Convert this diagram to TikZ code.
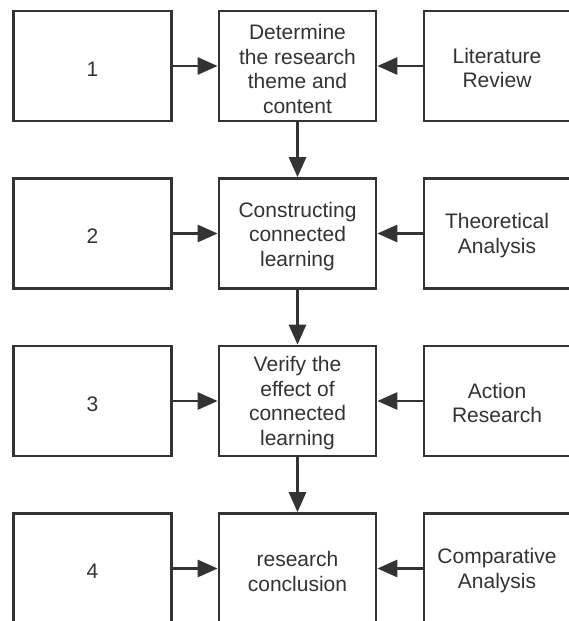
\documentclass[tikz,border=0pt]{standalone}
\usepackage{fontspec}
\setmainfont{Liberation Sans}
\usetikzlibrary{arrows.meta}
\definecolor{ink}{HTML}{333333}
\tikzset{
  box/.style={draw=ink, line width=2.7pt, minimum width=157pt, minimum height=110pt,
    inner sep=0pt},
  lbl/.style={align=center, text=ink, inner sep=0pt, font=\fontsize{21}{24.5}\selectfont},
  conn/.style={draw=ink, line width=2.8pt, -{Triangle[length=20pt,width=17pt]}}
}
\begin{document}
\begin{tikzpicture}[x=1pt,y=1pt]
\useasboundingbox (0,0) rectangle (569,-621);
\clip (0,0) rectangle (569,-621);
\fill[white] (0,0) rectangle (569,-621);
% left column
\node[box, minimum width=158pt] (l1) at (92.5,-66) {};
\node[box, minimum width=158pt] (l2) at (92.5,-233.5) {};
\node[box, minimum width=158pt] (l3) at (92.5,-401) {};
\node[box, minimum width=158pt] (l4) at (92.5,-568.5) {};
% middle column
\node[box] (m1) at (297.5,-66) {};
\node[box] (m2) at (297.5,-233.5) {};
\node[box] (m3) at (297.5,-401) {};
\node[box] (m4) at (297.5,-568.5) {};
% right column
\node[box] (r1) at (502.5,-66) {};
\node[box] (r2) at (502.5,-233.5) {};
\node[box] (r3) at (502.5,-401) {};
\node[box] (r4) at (502.5,-568.5) {};
% texts
\node[lbl] (tl1) at (92.5,-69) {1};
\node[lbl] (tl2) at (92.5,-236.5) {2};
\node[lbl] (tl3) at (92.5,-404) {3};
\node[lbl] (tl4) at (92.5,-571.5) {4};
\node[lbl] (tm1) at (297.5,-69) {Determine\\the research\\theme and\\content};
\node[lbl] (tm2) at (297.5,-236.5) {Constructing\\connected\\learning};
\node[lbl] (tm3) at (297.5,-403) {Verify the\\effect of\\connected\\learning};
\node[lbl] (tm4) at (297.5,-571.5) {research\\conclusion};
\node[lbl] (tr1) at (497,-68) {Literature\\Review};
\node[lbl] (tr2) at (497,-235.5) {Theoretical\\Analysis};
\node[lbl] (tr3) at (497,-403) {Action\\Research};
\node[lbl] (tr4) at (497,-570.5) {Comparative\\Analysis};
% connectors
\foreach \i in {1,2,3,4} {
  \draw[conn] (l\i) -- (m\i);
  \draw[conn] (r\i) -- (m\i);
}
\draw[conn] (m1) -- (m2);
\draw[conn] (m2) -- (m3);
\draw[conn] (m3) -- (m4);
\end{tikzpicture}
\end{document}
